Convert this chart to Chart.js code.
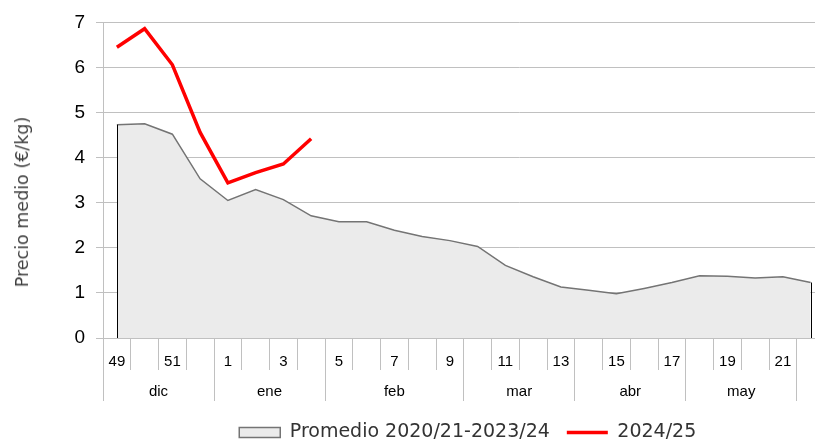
<!DOCTYPE html>
<html>
<head>
<meta charset="utf-8">
<script src="https://cdn.jsdelivr.net/npm/chart.js@4"></script>
<style>
  html, body { margin: 0; padding: 0; background: #fff; overflow: hidden; }
  #wrap { position: relative; width: 944px; height: 439px; }
  #ytitle {
    position: absolute; left: 22px; top: 202px;
    transform: translate(-50%, -50%) rotate(-90deg);
    white-space: nowrap; font: 17.5px 'DejaVu Sans', sans-serif; color: #404040;
  }
</style>
</head>
<body>
<div id="wrap">
  <canvas id="chart"></canvas>
  <div id="ytitle">Precio medio (€/kg)</div>
</div>
<script>
// semanas (dic - jun)
const semanas = ['49', '50', '51', '52', '1', '2', '3', '4', '5', '6', '7', '8', '9', '10', '11', '12', '13',
    '14', '15', '16', '17', '18', '19', '20', '21', '22', '23', '24', '25', '26'];
const meses = ['dic', 'ene', 'feb', 'mar', 'abr', 'may', 'jun'];
const semanasPorMes = [4, 4, 5, 4, 4, 4, 5];

// Promedio 2020/21-2023/24
const promedio = [4.73, 4.75, 4.52, 3.53, 3.05, 3.29, 3.07, 2.71, 2.58, 2.58, 2.39, 2.25, 2.16, 2.03, 1.61,
    1.36, 1.13, 1.06, 0.98, 1.10, 1.23, 1.38, 1.37, 1.33, 1.36, 1.23, null, null, null, null];
// 2024/25
const campana = [6.45, 6.86, 6.06, 4.56, 3.44, 3.67, 3.86, 4.42, null, null, null, null, null, null, null,
    null, null, null, null, null, null, null, null, null, null, null, null, null, null, null];

const yTicks = [0, 1, 2, 3, 4, 5, 6, 7];

const gridColor = '#c0c0c0';

// limites y centros de cada mes en el eje de categorias
const limites = [-0.5];
const centros = [];
semanasPorMes.forEach(n => {
    const ini = limites[limites.length - 1];
    centros.push(ini + n / 2);
    limites.push(ini + n);
});

// bordes verticales negros del area
const bordesArea = {
    id: 'bordesArea',
    afterDatasetsDraw(chart) {
        const meta = chart.getDatasetMeta(0);
        const pts = meta.data.filter((p, i) => promedio[i] !== null);
        const y0 = chart.scales.y.getPixelForValue(0);
        const ctx = chart.ctx;
        ctx.save();
        ctx.strokeStyle = '#000';
        ctx.lineWidth = 1;
        [pts[0], pts[pts.length - 1]].forEach(p => {
            const x = Math.round(p.x) + 0.5;
            ctx.beginPath();
            ctx.moveTo(x, p.y);
            ctx.lineTo(x, y0);
            ctx.stroke();
        });
        ctx.restore();
    }
};

new Chart(document.getElementById('chart'), {
    type: 'line',
    data: {
        labels: semanas,
        datasets: [{
            label: 'Promedio 2020/21-2023/24',
            data: promedio,
            fill: 'origin',
            backgroundColor: '#ebebeb',
            borderColor: '#747474',
            borderWidth: 1.5,
            pointRadius: 0,
            pointStyle: 'rect',
            tension: 0
        }, {
            label: '2024/25',
            data: campana,
            fill: false,
            borderColor: '#ff0000',
            backgroundColor: '#ff0000',
            borderWidth: 3.5,
            pointRadius: 0,
            pointStyle: 'line',
            tension: 0
        }]
    },
    options: {
        responsive: true,
        maintainAspectRatio: false,
        animation: false,
        layout: { padding: { top: 0, left: 0, right: 8.5, bottom: -13 } },
        scales: {
            x: {
                type: 'category',
                offset: true,
                grid: { offset: true, drawOnChartArea: false, tickLength: 32, color: gridColor },
                border: { color: gridColor },
                ticks: {
                    autoSkip: false, maxRotation: 0, padding: -17,
                    color: '#000', font: { family: 'Liberation Sans', size: 15 },
                    callback: (v, i) => i % 2 === 0 ? semanas[i] : ''
                },
                afterFit: s => { s.height = 32; }
            },
            x2: {
                type: 'linear',
                position: 'bottom',
                min: -0.5,
                max: semanas.length - 0.5,
                afterBuildTicks: s => {
                    s.ticks = limites.concat(centros).sort((a, b) => a - b).map(v => ({ value: v }));
                },
                grid: {
                    drawOnChartArea: false, tickLength: 31,
                    color: c => (c.tick && limites.includes(c.tick.value)) ? gridColor : 'rgba(0,0,0,0)'
                },
                border: { display: false },
                ticks: {
                    autoSkip: false, maxRotation: 0, padding: -18,
                    color: '#000', font: { family: 'Liberation Sans', size: 15 },
                    callback: v => {
                        const k = centros.indexOf(v);
                        return k >= 0 ? meses[k] : '';
                    }
                },
                afterFit: s => { s.height = 36; }
            },
            y: {
                min: 0,
                max: 7,
                afterBuildTicks: s => { s.ticks = yTicks.map(v => ({ value: v })); },
                grid: { color: gridColor, tickLength: 7 },
                border: { color: gridColor },
                ticks: { padding: 11, color: '#000', font: { family: 'Liberation Sans', size: 19 } },
                afterFit: s => { s.width = 103; }
            }
        },
        plugins: {
            legend: {
                position: 'bottom',
                labels: {
                    usePointStyle: true,
                    pointStyleWidth: 41,
                    boxHeight: 10,
                    padding: 17,
                    color: '#333',
                    font: { family: 'DejaVu Sans', size: 19 }
                }
            },
            tooltip: { enabled: false }
        }
    },
    plugins: [bordesArea]
});
</script>
</body>
</html>
